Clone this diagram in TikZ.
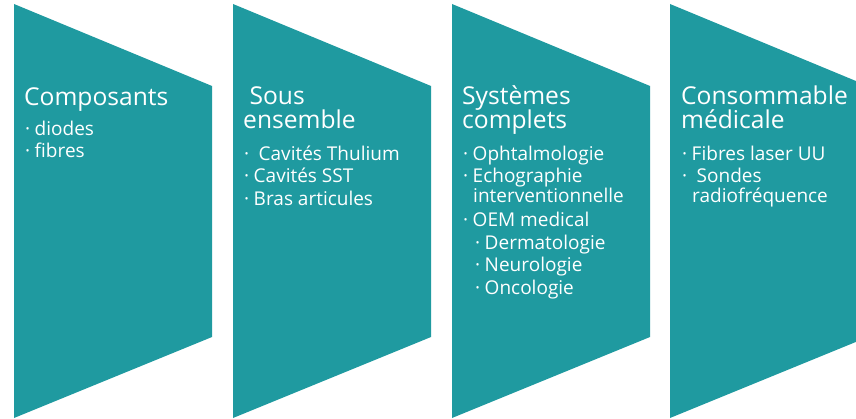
\documentclass[tikz,border=0pt]{standalone}
\usepackage{fontspec}
\setmainfont{Open Sans}
\definecolor{tealbox}{RGB}{31,154,160}
\tikzset{
  panel/.style={fill=tealbox},
  title/.style={anchor=base west,inner sep=0pt,text=white,font=\fontsize{24.6}{24}\selectfont},
  item/.style={anchor=base west,inner sep=0pt,text=white,font=\fontsize{19}{19}\selectfont}
}
\newcommand{\bul}{·\hspace{4.5pt}}
\begin{document}
\begin{tikzpicture}[x=1pt,y=-1pt]
  \useasboundingbox (0,0) rectangle (856,419);
  \clip (0,0) rectangle (856,419);
  \foreach \x in {14,233,452,670}
    \fill[panel] (\x,4) -- (\x+198,86) -- (\x+198,337) -- (\x,418) -- cycle;

  % Composants
  \node[title] (t1) at (24,106) {Composants};
  \node[item] (c1) at (25,136) {\bul diodes};
  \node[item] (c2) at (25,158) {\bul fibres};

  % Sous ensemble
  \node[title] (t2a) at (243,105) {\ Sous};
  \node[title] (t2b) at (243,129) {ensemble};
  \node[item] (s1) at (244,161) {\bul\ Cavités Thulium};
  \node[item] (s2) at (244,183) {\bul Cavités SST};
  \node[item] (s3) at (244,206) {\bul Bras articules};

  % Systemes complets
  \node[title] (t3a) at (462,105) {Systèmes};
  \node[title] (t3b) at (462,129) {complets};
  \node[item] (o1) at (463,161) {\bul Ophtalmologie};
  \node[item] (o2) at (463,183) {\bul Echographie};
  \node[item] (o2b) at (473,203) {interventionnelle};
  \node[item] (o3) at (463,227) {\bul OEM medical};
  \node[item] (o4) at (475,250) {\bul Dermatologie};
  \node[item] (o5) at (475,272) {\bul Neurologie};
  \node[item] (o6) at (475,295) {\bul Oncologie};

  % Consommable medicale
  \node[title] (t4a) at (681,105) {Consommable};
  \node[title] (t4b) at (681,129) {médicale};
  \node[item] (m1) at (682,161) {\bul Fibres laser UU};
  \node[item] (m2) at (682,183) {\bul\ Sondes};
  \node[item] (m2b) at (692,203) {radiofréquence};
\end{tikzpicture}
\end{document}
